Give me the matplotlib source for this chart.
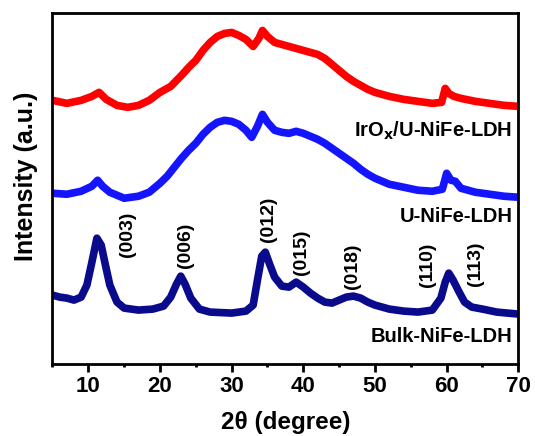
import matplotlib
matplotlib.use("Agg")
import matplotlib.pyplot as plt

plt.rcParams['font.family'] = ['Liberation Sans', 'DejaVu Sans']
plt.rcParams['font.weight'] = 'bold'

# IrOx/U-NiFe-LDH (red)
red_x = [5, 7, 9, 10.5, 11.5, 12.5, 14, 15.5, 17, 18.5, 20, 21.5, 23, 24, 25, 26, 27, 28, 29, 30,
         31, 32, 33, 33.8, 34.3, 35, 36, 37, 38, 39, 40, 41, 42, 43, 44, 45, 46, 47, 48, 49, 50,
         52, 54, 56, 58, 59.3, 59.8, 60.3, 61, 62, 64, 66, 68, 70]
red_y = [264, 261, 264, 268, 272, 265, 259, 257, 259, 264, 272, 278, 289, 297, 304, 314, 322, 328, 331, 332,
         329, 325, 318, 326, 334, 328, 322, 320, 318, 316, 314, 312, 310, 306, 300, 294, 288, 283, 279, 275, 272,
         268, 265, 263, 261, 262, 276, 271, 268, 266, 263, 261, 259, 258]

# U-NiFe-LDH (blue)
blue_x = [5, 7, 9, 10.5, 11.3, 12, 13, 15, 17, 18.5, 20, 21, 22, 23, 24, 25, 26, 27, 28, 29, 30,
          31, 32, 32.8, 33.6, 34.3, 35, 36, 37, 38, 39, 40, 41, 42, 43, 44, 45, 46, 47, 48, 49, 50,
          52, 54, 56, 58, 59.4, 60, 60.6, 61.2, 62, 64, 66, 68, 70]
blue_y = [171, 170, 173, 178, 184, 178, 172, 166, 168, 172, 181, 188, 197, 206, 214, 221, 230, 237, 242, 244, 243,
          240, 234, 227, 238, 250, 242, 234, 232, 231, 233, 231, 228, 225, 221, 216, 211, 206, 201, 195, 190, 186,
          180, 177, 174, 173, 175, 191, 184, 183, 176, 172, 170, 168, 167]

# Bulk-NiFe-LDH (navy)
navy_x = [5, 6, 7, 8, 9, 9.8, 10.5, 11.2, 11.8, 12.3, 13, 14, 15, 17, 19, 20.5, 21.5, 22.3, 22.9, 23.5,
          24.3, 25.5, 27, 30, 32, 33, 33.6, 34.2, 34.7, 35.3, 36, 37, 38, 39, 40, 41, 42, 43, 44, 45,
          46, 47, 48, 49, 50, 52, 54, 56, 58, 59.2, 59.8, 60.3, 60.9, 61.6, 62.5, 63.5, 65, 67, 70]
navy_y = [69, 67, 66, 64, 67, 79, 102, 126, 119, 102, 79, 62, 56, 54, 55, 58, 67, 80, 88, 80,
          66, 55, 52, 51, 53, 59, 84, 108, 112, 100, 87, 78, 77, 82, 77, 71, 66, 62, 61, 64,
          67, 68, 66, 62, 59, 55, 53, 52, 54, 66, 82, 91, 84, 74, 62, 57, 55, 52, 50]

peak_labels = ['(003)', '(006)', '(012)', '(015)', '(018)', '(110)', '(113)']
peak_x = [15.4, 23.5, 35.1, 39.7, 46.8, 57.3, 64.0]
peak_y = [130, 119, 145, 112, 98, 99, 100]

sample_labels = [r'IrO$_\mathbf{x}$/U-NiFe-LDH', 'U-NiFe-LDH', 'Bulk-NiFe-LDH']
sample_y = [233, 148, 28]

fig = plt.figure(figsize=(5.35, 4.36), dpi=100)
ax = fig.add_axes([0.0981, 0.1651, 0.8707, 0.804])

ax.plot(red_x, red_y, color='#ff0000', lw=5.5, solid_joinstyle='round')
ax.plot(blue_x, blue_y, color='#1414ff', lw=5.5, solid_joinstyle='round')
ax.plot(navy_x, navy_y, color='#0a0a8c', lw=5.5, solid_joinstyle='round')

for lab, px, py in zip(peak_labels, peak_x, peak_y):
    ax.text(px, py, lab, rotation=90, ha='center', va='center', fontsize=14, fontweight='bold')

for lab, sy in zip(sample_labels, sample_y):
    ax.text(69.2, sy, lab, ha='right', va='center', fontsize=14.5, fontweight='bold')

ax.set_xlim(5, 70)
ax.set_ylim(0, 351)
ax.set_xticks([10, 20, 30, 40, 50, 60, 70])
ax.set_xticks([5, 15, 25, 35, 45, 55, 65], minor=True)
ax.set_yticks([])
ax.tick_params(axis='x', which='major', direction='out', length=5.5, width=2, labelsize=16, pad=3)
ax.tick_params(axis='x', which='minor', direction='out', length=2.5, width=2)
for lbl in ax.get_xticklabels():
    lbl.set_fontweight('bold')
for sp in ax.spines.values():
    sp.set_linewidth(2)

# axis titles placed in figure pixels to match the reference
fig.text(285.5 / 535, 1 - 429 / 436, '2θ (degree)', ha='center', va='baseline', fontsize=17.5, fontweight='bold')
fig.text(26 / 535, 1 - 176 / 436, 'Intensity (a.u.)', rotation=90, ha='center', va='center',
         fontsize=18, fontweight='bold')

fig.savefig('out.png', dpi=100)
